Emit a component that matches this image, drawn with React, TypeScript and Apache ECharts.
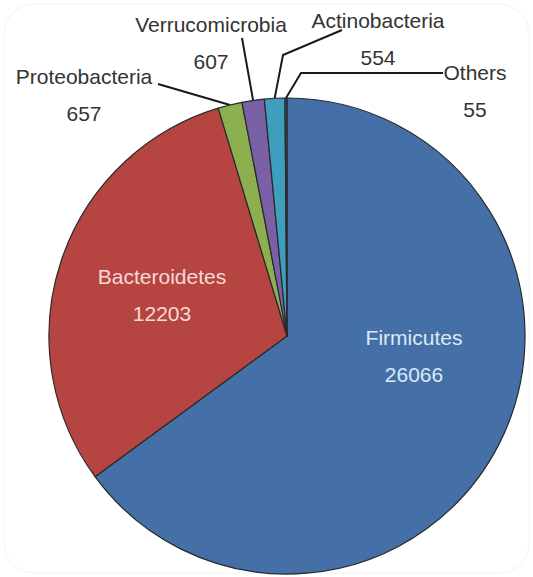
import React, { useEffect, useRef } from 'react';
import * as echarts from 'echarts';

const phyla = ['Firmicutes', 'Bacteroidetes', 'Proteobacteria', 'Verrucomicrobia', 'Actinobacteria', 'Others'];
const counts = [26066, 12203, 657, 607, 554, 55];
const sliceColors = ['#4470A7', '#B64542', '#8CB04F', '#7A60A6', '#3D9EBD', '#2F4F78'];
const insidePhyla = ['Firmicutes', 'Bacteroidetes'];
const insideTextColors: Record<string, string> = { Firmicutes: '#DCE8F8', Bacteroidetes: '#F6D9D8' };

// label block centres and leader-line bends (layout only)
const placement: Record<string, { x: number; y: number; bends?: number[][] }> = {
  Firmicutes: { x: 414, y: 356 },
  Bacteroidetes: { x: 162, y: 295 },
  Proteobacteria: { x: 84, y: 95, bends: [[158, 84]] },
  Verrucomicrobia: { x: 211, y: 43, bends: [[242, 38]] },
  Actinobacteria: { x: 378, y: 39, bends: [[283, 55], [342, 30]] },
  Others: { x: 475, y: 91, bends: [[301, 73], [443, 73]] },
};

export default function App() {
  const ref = useRef<HTMLDivElement>(null);
  useEffect(() => {
    if (!ref.current) return;
    const chart = echarts.init(ref.current, null, { renderer: 'svg' });
    const data = phyla.map((name, i) => {
      const inside = insidePhyla.includes(name);
      return {
        name,
        value: counts[i],
        itemStyle: { color: sliceColors[i] },
        label: inside
          ? { position: 'inside', color: insideTextColors[name] }
          : { position: 'outside', color: '#333333' },
        labelLine: { show: !inside },
      };
    });
    chart.setOption({
      animation: false,
      backgroundColor: '#ffffff',
      graphic: [
        {
          type: 'rect',
          shape: { x: 4, y: 4, width: 525, height: 569, r: 30 },
          style: { fill: 'none', stroke: '#f2f2f2', lineWidth: 1 },
          silent: true,
        },
      ],
      series: [
        {
          type: 'pie',
          center: [287, 336],
          radius: 238,
          startAngle: 90,
          clockwise: true,
          avoidLabelOverlap: false,
          minShowLabelAngle: 0,
          emphasis: { disabled: true },
          itemStyle: { borderColor: '#2a2a2a', borderWidth: 1.2 },
          label: {
            formatter: '{b}\n{c}',
            fontFamily: 'Liberation Sans, Arial, sans-serif',
            fontSize: 21,
            lineHeight: 37,
            align: 'center',
          },
          labelLine: {
            length: 10,
            length2: 10,
            lineStyle: { color: '#1a1a1a', width: 2 },
          },
          labelLayout: (params: any) => {
            const name = phyla[params.dataIndex];
            const p = placement[name];
            const out: any = { x: p.x, y: p.y, align: 'center', verticalAlign: 'middle' };
            if (p.bends && params.labelLinePoints) {
              out.labelLinePoints = [params.labelLinePoints[0], ...p.bends];
            }
            return out;
          },
          data,
        },
      ],
    });
    return () => chart.dispose();
  }, []);
  return (
    <div
      ref={ref}
      style={{ width: 533, height: 577, position: 'absolute', left: 0, top: 0 }}
    />
  );
}
